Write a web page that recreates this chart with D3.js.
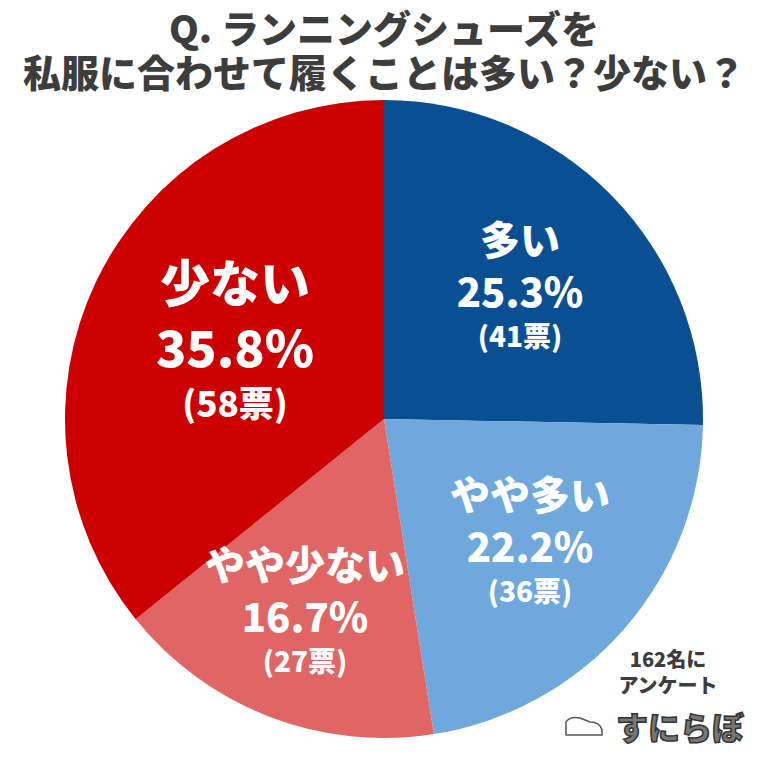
<html>
<head>
<meta charset="utf-8" />
<script src="https://d3js.org/d3.v7.min.js"></script>
<style>body{margin:0;background:#fff}</style>
</head>
<body>
<div class="container"></div>
<script>
  const categories = ["多い", "やや多い", "やや少ない", "少ない"];
  const percents = [25.3, 22.2, 16.7, 35.8];
  const votes = [41, 36, 27, 58];
  const colors = ["#0b4f93", "#6fa8dc", "#e06666", "#cc0000"];
  const labelPos = [[520, 255], [530, 510], [305, 580], [235, 302]];
  const labelSize = [40, 40, 40, 50];

  const width = 768, height = 764;
  const cx = 384, cy = 419, r = 319;

  const svg = d3.select(".container").append("svg")
    .attr("width", width).attr("height", height)
    .attr("font-family", "'Noto Sans CJK JP', sans-serif");

  const pie = d3.pie().sort(null).value((d) => d)(percents);
  const arc = d3.arc().innerRadius(0).outerRadius(r);

  svg.append("g").attr("transform", `translate(${cx},${cy})`)
    .selectAll("path").data(pie).join("path")
    .attr("d", arc).attr("fill", (d, i) => colors[i]);

  const title = ["Q. ランニングシューズを", "私服に合わせて履くことは多い？少ない？"];
  svg.append("g").selectAll("text").data(title).join("text")
    .attr("x", cx).attr("y", (d, i) => 43 + i * 44)
    .attr("text-anchor", "middle").attr("font-size", 38).attr("font-weight", 900)
    .attr("fill", "#3d3d3d").text((d) => d);

  const lab = svg.append("g").selectAll("g").data(categories).join("g")
    .attr("transform", (d, i) => `translate(${labelPos[i][0]},${labelPos[i][1]})`)
    .attr("fill", "#fff").attr("font-weight", 900).attr("text-anchor", "middle");
  lab.append("text").attr("font-size", (d, i) => labelSize[i])
    .text((d) => d);
  lab.append("text").attr("font-size", (d, i) => labelSize[i])
    .attr("y", (d, i) => labelSize[i] * 1.3)
    .text((d, i) => percents[i].toFixed(1) + "%");
  lab.append("text").attr("font-size", (d, i) => labelSize[i] * 0.7)
    .attr("y", (d, i) => labelSize[i] * 2.3)
    .text((d, i) => `(${votes[i]}票)`);

  svg.append("g").attr("text-anchor", "middle").attr("font-weight", 900)
    .attr("font-size", 20).attr("fill", "#3d3d3d")
    .selectAll("text").data(["162名に", "アンケート"]).join("text")
    .attr("x", 668).attr("y", (d, i) => 667 + i * 26).text((d) => d);
  svg.append("text").attr("x", 680).attr("y", 740).attr("text-anchor", "middle")
    .attr("font-size", 32).attr("font-weight", 900).attr("fill", "#777")
    .attr("stroke", "#333").attr("stroke-width", 1.5).text("すにらぼ");
  svg.append("path").attr("d", "M566,735 L566,722 Q570,716 580,718 L590,722 Q600,722 602,730 L602,735 Z")
    .attr("fill", "#fff").attr("stroke", "#555").attr("stroke-width", 1.5);
</script>
</body>
</html>
